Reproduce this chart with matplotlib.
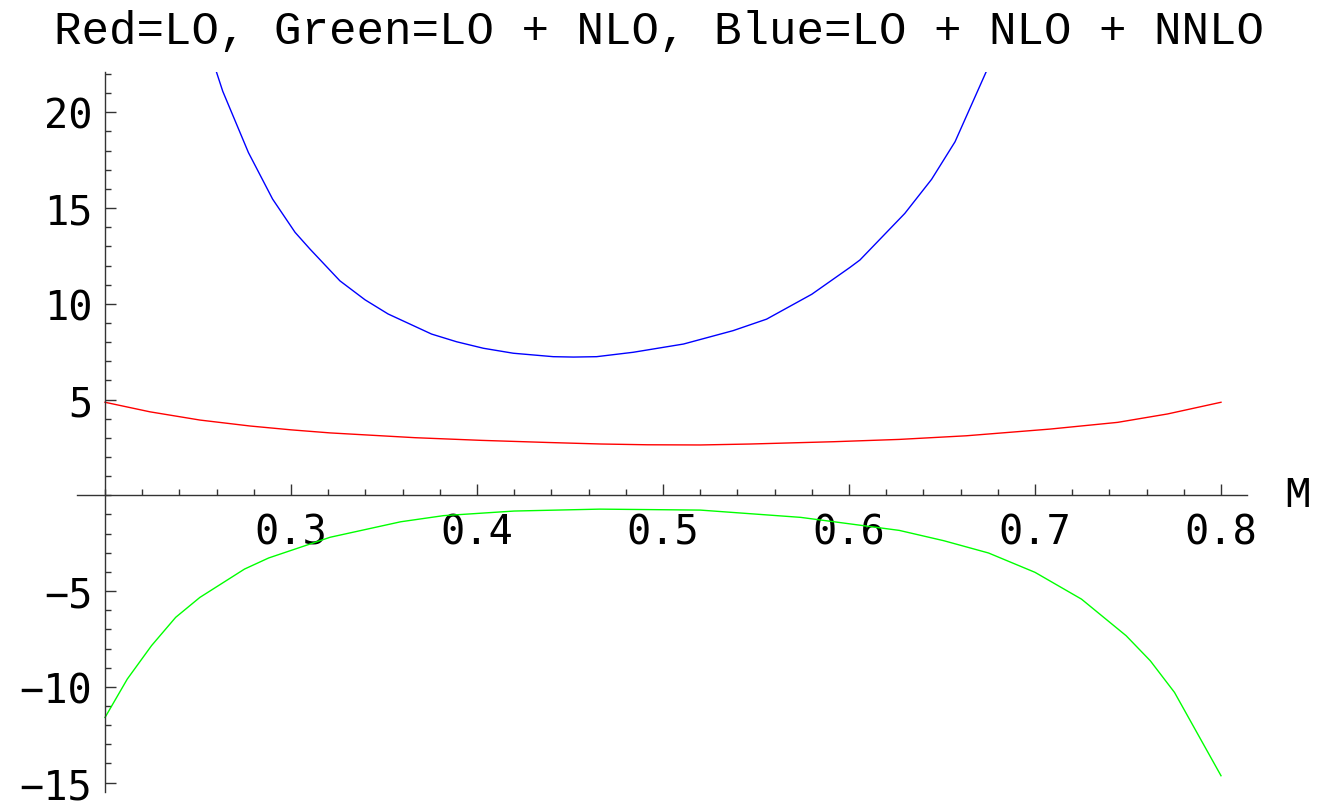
import matplotlib.pyplot as plt
from matplotlib.ticker import MultipleLocator, FixedLocator

# ---- data ----
m_lo = [0.200, 0.2242, 0.2511, 0.278, 0.300, 0.321, 0.3667, 0.4025, 0.438,
        0.4667, 0.4916, 0.520, 0.547, 0.5918, 0.627, 0.6631, 0.7081, 0.7444,
        0.7713, 0.800]
lo = [4.86, 4.36, 3.93, 3.62, 3.42, 3.26, 3.01, 2.87, 2.76,
      2.68, 2.64, 2.63, 2.68, 2.80, 2.92, 3.11, 3.46, 3.81,
      4.25, 4.86]

m_nlo = [0.200, 0.212, 0.225, 0.238, 0.251, 0.275, 0.288, 0.321, 0.359,
         0.382, 0.420, 0.466, 0.520, 0.574, 0.627, 0.651, 0.675, 0.700,
         0.725, 0.749, 0.762, 0.775, 0.800]
nlo = [-11.6, -9.59, -7.85, -6.37, -5.33, -3.85, -3.27, -2.19, -1.38,
       -1.06, -0.82, -0.72, -0.77, -1.15, -1.83, -2.37, -3.01, -4.02,
       -5.42, -7.33, -8.64, -10.29, -14.64]

m_nnlo = [0.2597, 0.2633, 0.2771, 0.2901, 0.3022, 0.3102, 0.3263, 0.3398,
          0.3522, 0.3756, 0.3890, 0.4034, 0.4195, 0.441, 0.4519, 0.4643,
          0.484, 0.511, 0.5377, 0.5557, 0.580, 0.6005, 0.6059, 0.630,
          0.6444, 0.657, 0.674]
nnlo = [22.17, 21.1, 17.9, 15.47, 13.73, 12.86, 11.2, 10.21,
        9.47, 8.42, 8.02, 7.68, 7.42, 7.24, 7.22, 7.24,
        7.47, 7.9, 8.6, 9.2, 10.5, 11.9, 12.29, 14.72,
        16.5, 18.46, 22.17]

x_ticks = [0.3, 0.4, 0.5, 0.6, 0.7, 0.8]
y_ticks = [-15, -10, -5, 5, 10, 15, 20]
title = "Red=LO, Green=LO + NLO, Blue=LO + NLO + NNLO"

W, H = 1319, 803
fig = plt.figure(figsize=(W / 100, H / 100), dpi=100)
ax = fig.add_axes([77 / W, 1 - 793 / H, (1247 - 77) / W, (793 - 72.7) / H])

ax.plot(m_lo, lo, color="#ff0000", lw=1.0)
ax.plot(m_nlo, nlo, color="#00ff00", lw=1.0)
ax.plot(m_nnlo, nnlo, color="#0000ff", lw=1.0)

ax.set_xlim(0.2 - 28 / 1860, 0.2 + 1142 / 1860)
ax.set_ylim(-15.49, 22.12)

# axes cross at (0.2, 0)
for s in ["top", "right"]:
    ax.spines[s].set_visible(False)
ax.spines["left"].set_position(("data", 0.2))
ax.spines["bottom"].set_position(("data", 0))
for s in ["left", "bottom"]:
    ax.spines[s].set_linewidth(1.0)
    ax.spines[s].set_color("#333333")

ax.xaxis.set_major_locator(FixedLocator(x_ticks))
ax.xaxis.set_minor_locator(MultipleLocator(0.02))
ax.yaxis.set_major_locator(FixedLocator(y_ticks))
ax.yaxis.set_minor_locator(MultipleLocator(1))

ax.tick_params(which="both", direction="in", color="#333333", width=1.0)
ax.tick_params(which="major", length=8)
ax.tick_params(which="minor", length=4.5)
ax.tick_params(axis="x", which="major", pad=12, labelsize=29)
ax.tick_params(axis="y", which="major", pad=9, labelsize=29)
ax.set_xticklabels([f"{v:g}" for v in x_ticks], family="DejaVu Sans Mono")
ax.set_yticklabels([str(v).replace("-", "\u2212") for v in y_ticks],
                   family="DejaVu Sans Mono")

fig.text(0.5, 1 - 32 / H, title, ha="center", va="center",
         family="Liberation Mono", fontsize=33)
fig.text(1298 / W, 1 - 496 / H, "M", ha="center", va="center",
         family="Liberation Mono", fontsize=32)

fig.savefig("out.png", dpi=100)
